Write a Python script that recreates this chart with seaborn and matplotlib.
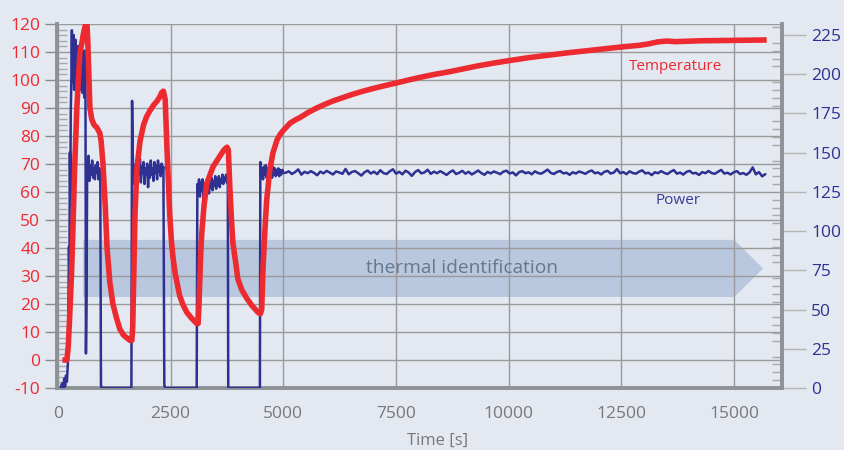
import numpy as np
import matplotlib
matplotlib.use("Agg")
import matplotlib.pyplot as plt
import seaborn as sns
from matplotlib.patches import Polygon
from matplotlib.ticker import MultipleLocator

# ---------------- data ----------------
# Temperature (left axis) : (time [s], value)
temp_points = [
    (100, 0), (150, 0), (200, 0), (230, 5), (260, 15), (300, 30), (330, 45),
    (370, 68), (420, 90), (460, 102), (490, 110), (530, 113), (560, 116),
    (600, 119), (640, 121), (660, 115), (690, 100), (710, 90), (750, 86),
    (800, 84), (865, 83), (930, 81), (960, 78), (1000, 70), (1050, 55),
    (1090, 40), (1150, 28), (1220, 20), (1300, 15), (1375, 11), (1450, 9),
    (1520, 8), (1600, 7), (1640, 7), (1660, 12), (1690, 35), (1710, 52),
    (1750, 68), (1820, 78), (1900, 84), (1970, 87), (2040, 89), (2120, 91),
    (2200, 92.5), (2260, 94), (2300, 95.5), (2340, 96), (2380, 93),
    (2420, 75), (2450, 64), (2480, 52), (2520, 42), (2550, 37), (2600, 31),
    (2700, 23), (2780, 19.5), (2860, 17), (2960, 15), (3080, 13), (3110, 13),
    (3130, 20), (3160, 35), (3190, 45), (3240, 55), (3300, 63), (3370, 66),
    (3440, 69), (3520, 71), (3600, 73), (3680, 75), (3750, 76), (3780, 75),
    (3815, 61), (3850, 50), (3880, 42), (3950, 34), (3990, 29), (4080, 25),
    (4190, 22), (4300, 19.5), (4440, 17), (4490, 16.5), (4520, 18),
    (4550, 33), (4590, 46), (4630, 57), (4700, 68), (4770, 74), (4860, 78.6),
    (4930, 80.6), (5000, 82), (5080, 83.4), (5150, 84.6), (5250, 85.6),
    (5370, 86.6), (5550, 88.4), (5740, 90), (5920, 91.3), (6100, 92.5),
    (6300, 93.6), (6480, 94.6), (6700, 95.7), (6950, 96.8), (7200, 97.8),
    (7470, 98.8), (7750, 99.9), (8050, 101), (8350, 102), (8700, 103),
    (9000, 104), (9300, 105), (9650, 106), (10000, 106.9), (10450, 108),
    (10900, 108.9), (11300, 109.7), (11700, 110.4), (12100, 111.1),
    (12500, 111.8), (12900, 112.4), (13100, 112.9), (13300, 113.6),
    (13500, 113.9), (13700, 113.7), (13900, 113.8), (14240, 114),
    (14800, 114.1), (15300, 114.2), (15720, 114.3),
]
temp_time = [p[0] for p in temp_points]
temp_vals = [p[1] for p in temp_points]

# Power (right axis) : segments (start time, sample step, values)
power_segments = [
    (60, 20, [0, 2, 3, 0, 6, 1, 8, 4, 15]),
    (235, 10, [60, 90, 70, 150, 120, 175]),
    (300, 10, [200, 228, 195, 215, 205, 225, 190, 210, 200, 222, 195, 215,
               188, 208, 200, 218, 192, 212, 198, 218, 190, 205, 220, 195,
               210, 188, 200, 215, 196, 185, 200, 215]),
    (622, 14, [22, 60, 145, 138, 148]),
    (700, 20, [132, 142, 136, 145, 134, 140, 133, 142, 137, 144, 133, 140, 136]),
    (955, 15, [2, 0]),
    (1630, 15, [0, 183, 150]),
    (1680, 20, [130, 142, 135, 145, 132, 140, 136, 146, 131, 141, 137, 144,
                130, 140, 136, 143, 128, 141, 134, 145, 136, 140, 132, 144,
                137, 142, 133, 145, 138, 141, 135, 143, 139, 141]),
    (2360, 20, [2, 0]),
    (3078, 15, [0, 130]),
    (3110, 20, [125, 133, 122, 131, 126, 133, 120, 130, 125, 132, 127, 134,
                124, 131, 128, 134, 126, 132, 129, 135, 127, 133, 130, 135,
                128, 133, 131, 136, 130, 134, 132, 136, 131]),
    (3768, 10, [134, 1, 0]),
    (4480, 10, [0, 144]),
    (4510, 20, [135, 140, 133, 141, 136, 142, 134, 140, 135, 141, 137, 140,
                134, 141, 136, 140, 135, 139, 136, 140, 135, 139, 136]),
    (4975, 25, [139, 137]),
    (5050, 70, [
        137.2, 138.1, 136.4, 137.6, 139.3, 136.0, 137.8, 136.9, 138.2, 137.1, 135.6, 137.9, 136.8, 138.4, 137.3, 136.1, 138.0,
        137.4, 136.5, 139.6, 136.2, 137.7, 138.3, 136.9, 135.4, 137.5, 138.6, 136.7, 137.9, 136.3, 138.8, 137.0, 136.4, 138.1,
        139.4, 136.6, 137.8, 136.2, 138.5, 137.3, 135.2, 137.6, 138.9, 136.8, 137.4, 139.1, 136.5, 137.9, 136.9, 138.2, 137.1,
        135.8, 137.5, 138.7, 136.4, 137.2, 138.4, 136.6, 137.8, 136.1, 137.3, 138.6, 137.0, 135.9, 137.7, 136.8, 138.0, 137.2,
        136.3, 137.9, 138.5, 136.7, 137.4, 135.5, 137.6, 138.2, 136.9, 137.5, 136.2, 138.1, 137.0, 136.6, 137.8, 139.2, 137.1,
        136.4, 137.7, 138.3, 136.8, 137.2, 135.9, 137.5, 136.7, 138.0, 137.3, 136.5, 137.9, 138.6, 136.9, 137.4, 136.1, 137.8,
        138.4, 136.7, 137.3, 139.5, 136.9, 137.6, 136.3, 138.1, 137.0, 136.6, 137.9, 138.7, 136.8, 137.2, 135.7, 137.5, 136.9,
        138.2, 137.1, 136.4, 137.8, 138.9, 136.6, 137.3, 136.0, 137.7, 138.4, 136.8, 137.1, 135.8, 137.6, 136.9, 138.3, 137.0,
        136.5, 137.8, 139.0, 136.7, 137.2, 136.1, 137.5, 138.2, 136.4, 137.0, 135.9, 137.4, 140.6, 136.2, 137.6, 134.9, 136.3,
    ]),
]
power_time, power_vals = [], []
for start, step, vals in power_segments:
    for i, v in enumerate(vals):
        power_time.append(start + step * i)
        power_vals.append(v)

x_ticks = [0, 2500, 5000, 7500, 10000, 12500, 15000]
left_ticks = list(range(-10, 121, 10))
right_ticks = list(range(0, 226, 25))

# arrow band (thermal identification)
band_x0, band_x1, band_tip = 560, 15000, 15640
band_lo, band_hi = 22.5, 42.9

# ---------------- style ----------------
BG = "#E3E8F1"
RED = "#EC2A2F"
NAVY = "#2E3192"
GRID = "#9A9A9A"
SPINE = "#8E9196"

sns.set_style("white")
plt.rcParams["font.family"] = ["Open Sans", "DejaVu Sans"]
plt.rcParams["axes.unicode_minus"] = False

fig = plt.figure(figsize=(8.45, 4.5), dpi=100, facecolor=BG)
pos = [57 / 845, 62 / 450, 725 / 845, 364 / 450]
ax = fig.add_axes(pos)
ax.set_facecolor(BG)
ax2 = ax.twinx()
ax3 = fig.add_axes(pos, sharex=ax, sharey=ax)
ax.set_zorder(0)
ax2.set_zorder(1)
ax3.set_zorder(2)
ax2.patch.set_visible(False)
ax3.patch.set_visible(False)

# band
mid = (band_lo + band_hi) / 2
band = Polygon([(band_x0, band_hi), (band_x1, band_hi), (band_tip, mid),
                (band_x1, band_lo), (band_x0, band_lo)],
               closed=True, facecolor="#B9C8DE", edgecolor="none", zorder=1)
ax.add_patch(band)
ax.text(8960, mid, "thermal identification",
        ha="center", va="center", fontsize=13.8, color="#66778E", zorder=3)

# lines
sns.lineplot(x=power_time, y=power_vals, ax=ax2, color=NAVY, lw=1.8,
             estimator=None, sort=False)
sns.lineplot(x=temp_time, y=temp_vals, ax=ax3, color=RED, lw=4.0,
             estimator=None, sort=False, solid_capstyle="butt")

# limits
ax.set_xlim(-20, 16060)
ax.set_ylim(-10, 120)
ax2.set_ylim(0, 232)

# grid
ax.set_axisbelow("line")
ax.grid(True, which="major", color=GRID, lw=1.0)
ax2.grid(False)

# ticks
ax.set_xticks(x_ticks)
ax.set_xticklabels([str(v) for v in x_ticks])
ax.xaxis.set_minor_locator(MultipleLocator(500))
ax.set_yticks(left_ticks)
ax.set_yticklabels([str(v) for v in left_ticks])
ax.yaxis.set_minor_locator(MultipleLocator(2))
ax2.set_yticks(right_ticks)
ax2.set_yticklabels([str(v) for v in right_ticks])
ax2.yaxis.set_minor_locator(MultipleLocator(5))

ax.tick_params(axis="x", which="major", direction="out", length=9, width=1,
               color="#8A8A8A", labelsize=12.5, labelcolor="#787878", pad=4)
ax.tick_params(axis="x", which="minor", direction="in", length=5, width=1,
               color="#9A9A9A")
ax.tick_params(axis="y", which="major", direction="out", length=9, width=1,
               color="#8A8A8A", labelsize=12.5, labelcolor=RED, pad=3)
ax.tick_params(axis="y", which="minor", direction="in", length=7, width=1,
               color="#A8A8A8")
ax2.tick_params(axis="y", which="major", direction="out", length=17, width=1,
                color="#B5B5B5", labelsize=12.5, labelcolor=NAVY, pad=4)
ax2.tick_params(axis="y", which="minor", direction="in", length=7, width=1,
                color="#A8A8A8")

ax3.axis("off")
ax.set_xlabel("")
ax.set_ylabel("")
ax2.set_ylabel("")

# spines
for s in ("top", "right"):
    ax.spines[s].set_visible(False)
for s in ("top", "left", "bottom"):
    ax2.spines[s].set_visible(False)
for sp in (ax.spines["left"], ax.spines["bottom"], ax2.spines["right"]):
    sp.set_color(SPINE)
    sp.set_linewidth(2.8)

# annotations
ax.text(13690, 105, "Temperature", ha="center", va="center", fontsize=11,
        color=RED, zorder=5)
ax.text(13750, 56.8, "Power", ha="center", va="center", fontsize=11,
        color="#3A3D96", zorder=5)
fig.text(438 / 845, 1 - 441 / 450, "Time [s]", ha="center", va="center",
         fontsize=12, color="#787878")

fig.savefig("out.png", dpi=100, facecolor=BG)
